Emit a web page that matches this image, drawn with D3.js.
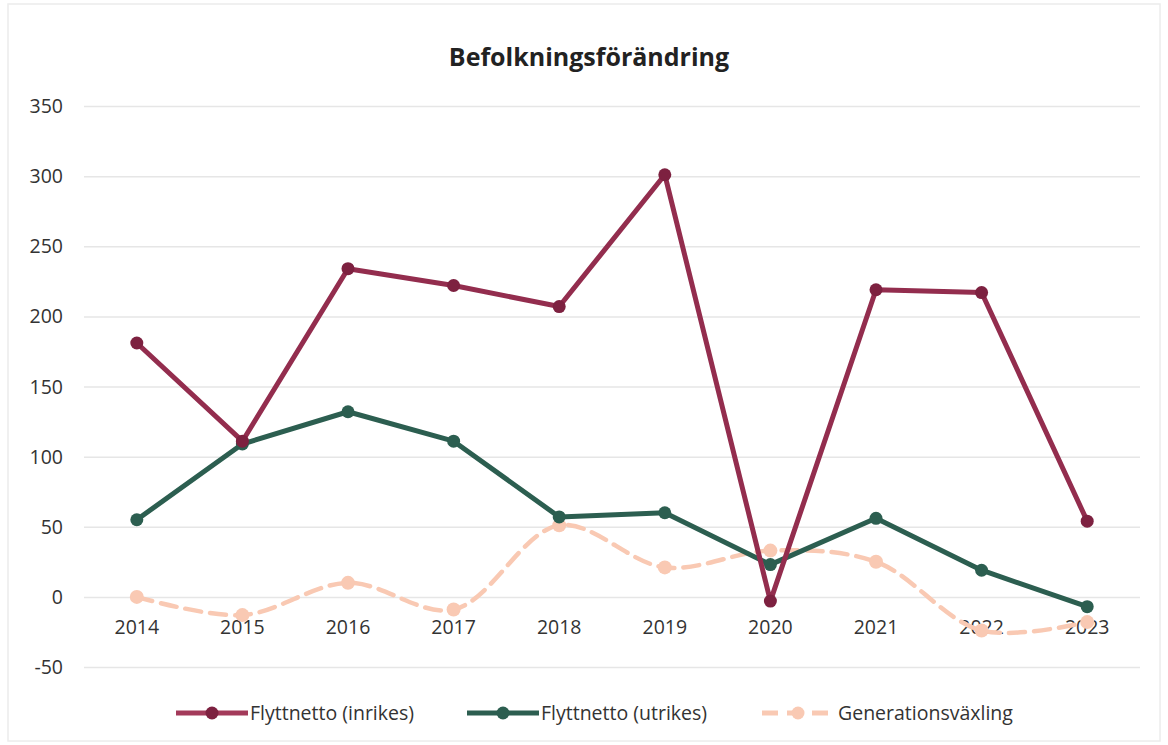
<html>
<head>
<script src="https://d3js.org/d3.v7.min.js"></script>
<style>
  body { margin: 0; background: #fff; }
  svg text { font-family: "Open Sans", "Liberation Sans", sans-serif; fill: #333; }
  .grid line { stroke: #e6e6e6; stroke-width: 1.5; }
  .grid .domain { display: none; }
</style>
</head>
<body>
<svg id="chart" width="1168" height="745"></svg>
<script>
// data
const years = ["2014","2015","2016","2017","2018","2019","2020","2021","2022","2023"];
const inrikes = [181, 111, 234, 222, 207, 301, -3, 219, 217, 54];
const utrikes = [55, 109, 132, 111, 57, 60, 23, 56, 19, -7];
const generation = [0, -13, 10, -9, 51, 21, 33, 25, -24, -18];
const yTicks = [-50, 0, 50, 100, 150, 200, 250, 300, 350];
const seriesNames = ["Flyttnetto (inrikes)", "Flyttnetto (utrikes)", "Generationsväxling"];

const svg = d3.select("#chart");

// outer chart frame
svg.append("rect").attr("x", 8).attr("y", 4).attr("width", 1152).attr("height", 737)
   .attr("fill", "none").attr("stroke", "#ececec").attr("stroke-width", 1.5);

const x = d3.scalePoint().domain(years).range([84, 1140]).padding(0.5);
const y = d3.scaleLinear().domain([-50, 350]).range([667, 106]);

// gridlines
svg.append("g").attr("class", "grid")
   .attr("transform", "translate(84,0)")
   .call(d3.axisLeft(y).tickValues(yTicks).tickSize(-1056).tickFormat(""));

// y tick labels
svg.selectAll("text.ytick").data(yTicks).join("text")
   .attr("class", "ytick")
   .attr("x", 63).attr("y", d => y(d) + 7)
   .attr("text-anchor", "end")
   .attr("font-size", 19.5)
   .text(d => d);

// x labels sit just under the zero line
svg.selectAll("text.xtick").data(years).join("text")
   .attr("class", "xtick")
   .attr("x", d => x(d)).attr("y", y(0) + 37)
   .attr("text-anchor", "middle")
   .attr("font-size", 19.5)
   .text(d => d);

// title
svg.append("text").attr("x", 589).attr("y", 66)
   .attr("text-anchor", "middle").attr("font-size", 25).attr("font-weight", "bold")
   .style("fill", "#222")
   .text("Befolkningsförändring");

const straight = d3.line().x((d, i) => x(years[i])).y(d => y(d));
const smooth = d3.line().x((d, i) => x(years[i])).y(d => y(d)).curve(d3.curveCatmullRom.alpha(0.5));

// generationsväxling (dashed, smooth)
svg.append("path").datum(generation)
   .attr("d", smooth).attr("fill", "none")
   .attr("stroke", "#f9c9b3").attr("stroke-width", 4.5)
   .attr("stroke-dasharray", "16,9").attr("stroke-linecap", "round");
svg.selectAll("circle.gen").data(generation).join("circle")
   .attr("class", "gen")
   .attr("cx", (d, i) => x(years[i])).attr("cy", d => y(d)).attr("r", 7)
   .attr("fill", "#f9c9b3");

// utrikes
svg.append("path").datum(utrikes)
   .attr("d", straight).attr("fill", "none")
   .attr("stroke", "#2c5e50").attr("stroke-width", 5).attr("stroke-linejoin", "round");
svg.selectAll("circle.ut").data(utrikes).join("circle")
   .attr("class", "ut")
   .attr("cx", (d, i) => x(years[i])).attr("cy", d => y(d)).attr("r", 6.5)
   .attr("fill", "#2c5e50");

// inrikes
svg.append("path").datum(inrikes)
   .attr("d", straight).attr("fill", "none")
   .attr("stroke", "#932d4e").attr("stroke-width", 5).attr("stroke-linejoin", "round");
svg.selectAll("circle.in").data(inrikes).join("circle")
   .attr("class", "in")
   .attr("cx", (d, i) => x(years[i])).attr("cy", d => y(d)).attr("r", 6.5)
   .attr("fill", "#7d2140");

// legend
const legend = [
  { x: 176, color: "#a33a5a", dot: "#7d2140", dash: null },
  { x: 467, color: "#2c5e50", dot: "#2c5e50", dash: null },
  { x: 762, color: "#f9c9b3", dot: "#f9c9b3", dash: "16,9" }
];
legend.forEach((l, i) => {
  const g = svg.append("g");
  g.append("line").attr("x1", l.x).attr("x2", l.x + 72).attr("y1", 713).attr("y2", 713)
   .attr("stroke", l.color).attr("stroke-width", 5)
   .attr("stroke-dasharray", l.dash);
  g.append("circle").attr("cx", l.x + 36).attr("cy", 713).attr("r", 6.5).attr("fill", l.dot);
  g.append("text").attr("x", l.x + (i === 2 ? 76 : 74)).attr("y", 720)
   .attr("font-size", 19.5).text(seriesNames[i]);
});
</script>
</body>
</html>
